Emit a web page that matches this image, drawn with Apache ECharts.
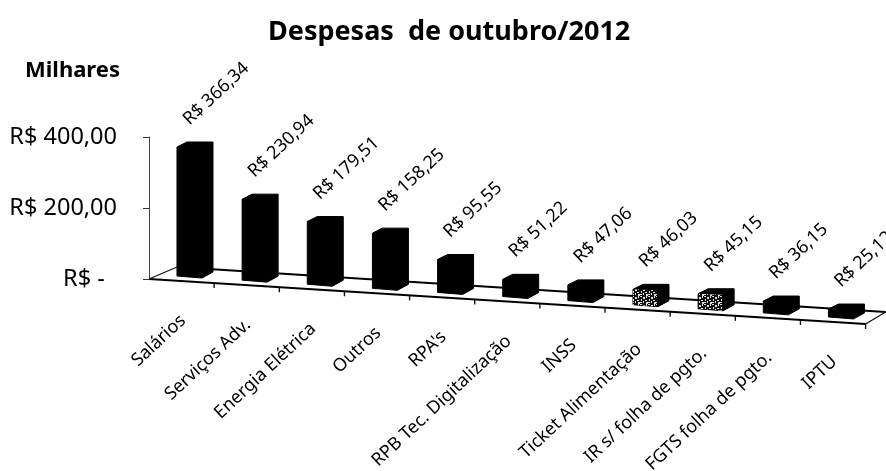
<!DOCTYPE html>
<html><head><meta charset="utf-8">
<style>html,body{margin:0;padding:0;background:#fff}#c{width:886px;height:471px}</style>
<script src="https://cdn.jsdelivr.net/npm/echarts@6/dist/echarts.min.js"></script>
</head><body><div id="c"></div>
<script>
const categories = ["Salários","Serviços Adv.","Energia Elétrica","Outros","RPA's","RPB Tec. Digitalização","INSS","Ticket Alimentação","IR s/ folha de pgto.","FGTS folha de pgto.","IPTU"];
const values = [366.34,230.94,179.51,158.25,95.55,51.22,47.06,46.03,45.15,36.15,25.12];
const valueLabels = ["R$ 366,34","R$ 230,94","R$ 179,51","R$ 158,25","R$ 95,55","R$ 51,22","R$ 47,06","R$ 46,03","R$ 45,15","R$ 36,15","R$ 25,12"];
const speckled = ["Ticket Alimentação","IR s/ folha de pgto."];
const titleText = "Despesas  de outubro/2012";
const unitText = "Milhares";
const FONT = '"Noto Sans", Lato, sans-serif';
const SLOPE = 0.0628;
const ROT = 43 * Math.PI / 180;

const chart = echarts.init(document.getElementById('c'), null, {renderer:'canvas'});

// small speckle tile for the two scanned-out bars
const tile = document.createElement('canvas'); tile.width = 8; tile.height = 8;
const tc = tile.getContext('2d');
tc.fillStyle = '#111'; tc.fillRect(0,0,8,8);
tc.fillStyle = '#ddd';
[[0,0,2,1],[3,1,2,2],[6,0,1,2],[1,3,1,2],[5,4,2,1],[0,6,2,1],[3,5,1,2],[6,6,2,2]].forEach(r=>tc.fillRect(r[0],r[1],r[2],r[3]));

function slant(p, x0) { return (p[0] - x0) * SLOPE; }

function renderFloor(params, api) {
  const i = api.value(0);
  const c = api.coord([i, 0]);
  const band = api.size([1, 0])[0];
  const x0 = api.coord([0, 0])[0] - band / 2;
  const yEnd = x => c[1] + (x - x0) * SLOPE;
  const tx = c[0] + band / 2;
  const ls = {stroke:'#000', lineWidth:2};
  const children = [{type:'line', shape:{x1:tx,y1:yEnd(tx),x2:tx,y2:yEnd(tx)+5}, style:{stroke:'#111',lineWidth:1.4}}];
  if (i === 0) {
    const xN = x0 + band * categories.length;
    children.push(
      {type:'line', shape:{x1:x0,y1:c[1],x2:xN,y2:yEnd(xN)}, style:ls},
      {type:'line', shape:{x1:x0,y1:c[1],x2:x0+28,y2:c[1]-12}, style:{stroke:'#111',lineWidth:1.3}},
      {type:'line', shape:{x1:x0+28,y1:c[1]-12,x2:xN+20,y2:yEnd(xN)-12}, style:ls},
      {type:'line', shape:{x1:xN,y1:yEnd(xN),x2:xN+20,y2:yEnd(xN)-12}, style:{stroke:'#111',lineWidth:1.2}}
    );
  }
  return {type:'group', children};
}

function renderBar(params, api) {
  const i = api.value(0);
  const c0 = api.coord([i, 0]);
  const c1 = api.coord([i, api.value(1)]);
  const band = api.size([1, 0])[0];
  const x0 = api.coord([0, 0])[0] - band / 2;
  const cx = c0[0] + 13.4;
  const base = c0[1] + slant(c0, x0) - 3;
  const top = base - (c0[1] - c1[1]) - 6;
  const sp = speckled.includes(categories[i]);
  const kids = [{
    type:'polygon',
    shape:{points:[[cx-18,base-2],[cx+7,base],[cx+18,base-6],[cx+18,top],[cx-8,top],[cx-18,top+5]], smooth:0},
    style:{fill:'#000', stroke:'#000', lineWidth:1, lineJoin:'round'}
  }];
  if (sp) {
    kids.push({type:'polygon',
      shape:{points:[[cx-18,base-2],[cx+6,base],[cx+6,top+6],[cx-18,top+5]]},
      style:{fill:{image:tile, repeat:'repeat'}}});
  }
  kids.push({type:'text', x:cx-9, y:top-20, rotation:ROT,
    style:{text:valueLabels[i], font:'18px '+FONT, fill:'#000', align:'left', verticalAlign:'middle'}});
  return {type:'group', children:kids};
}

function renderCat(params, api) {
  const i = api.value(0);
  const c0 = api.coord([i, 0]);
  const band = api.size([1, 0])[0];
  const x0 = api.coord([0, 0])[0] - band / 2;
  return {type:'text', x:c0[0]+1.4, y:c0[1]+slant(c0,x0)+37, rotation:ROT,
    style:{text:categories[i], font:'18px '+FONT, fill:'#000', align:'right', verticalAlign:'middle'}};
}

const idx = categories.map((_,i)=>[i, values[i]]);
chart.setOption({
  animation:false,
  backgroundColor:'#fff',
  title:[
    {text:titleText, left:263, top:14, textStyle:{fontFamily:FONT,fontSize:27,fontWeight:'bold',color:'#000'}},
    {text:unitText, left:20, top:55, textStyle:{fontFamily:FONT,fontSize:22,fontWeight:'bold',color:'#000'}}
  ],
  grid:{left:149, top:137, width:716.6, height:142},
  xAxis:{type:'category', data:categories, show:false},
  yAxis:{type:'value', min:0, max:400, interval:200,
    splitLine:{show:false},
    axisLine:{show:true, lineStyle:{color:'#444',width:1}},
    axisTick:{show:true, length:6, lineStyle:{color:'#333',width:1}},
    axisLabel:{margin:32, fontFamily:FONT, fontSize:23.5, color:'#000',
      formatter:v=> v===0 ? 'R$ -  ' : 'R$ '+v.toFixed(2).replace('.',',')}
  },
  series:[
    {type:'custom', clip:false, silent:true, renderItem:renderFloor, data:idx, encode:{x:0,y:1}, z:1},
    {type:'custom', clip:false, silent:true, renderItem:renderBar, data:idx, encode:{x:0,y:1}, z:2},
    {type:'custom', clip:false, silent:true, renderItem:renderCat, data:idx, encode:{x:0,y:1}, z:3}
  ]
});
</script></body></html>
